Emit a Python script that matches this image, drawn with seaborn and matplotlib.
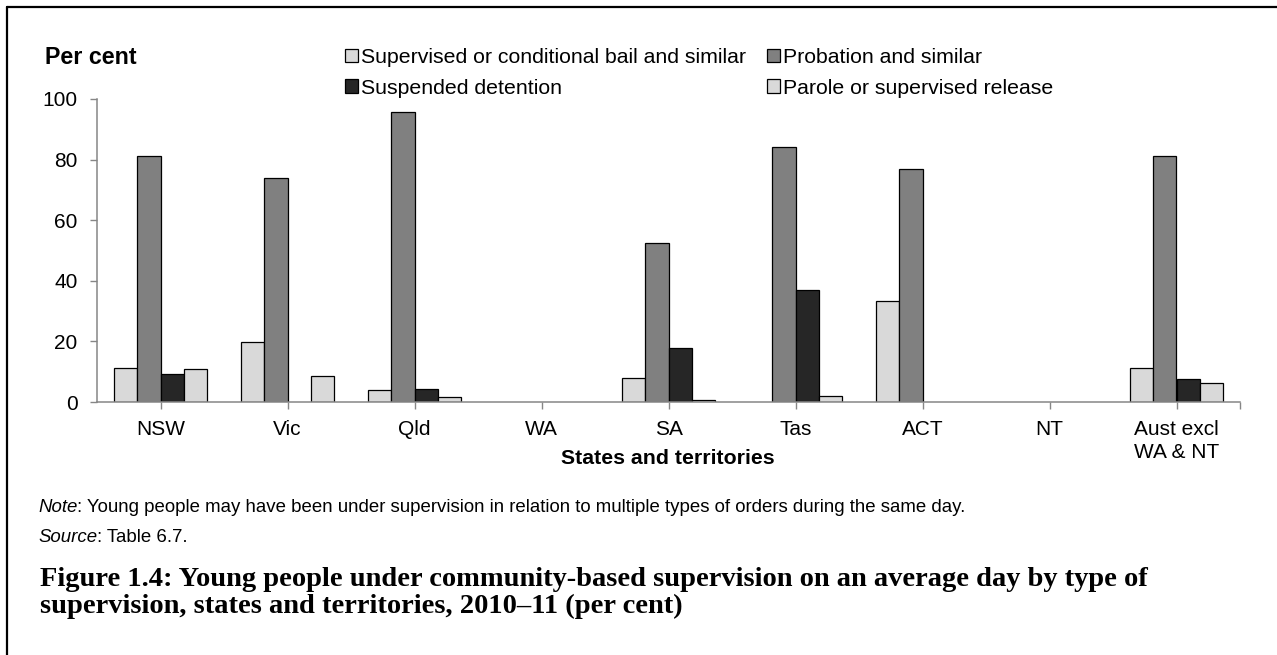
import numpy as np
import pandas as pd
import matplotlib
matplotlib.use("Agg")
import matplotlib.pyplot as plt
import seaborn as sns
from matplotlib.patches import Patch
from matplotlib.lines import Line2D

# ---------------- data ----------------
categories = ["NSW", "Vic", "Qld", "WA", "SA", "Tas", "ACT", "NT", "Aust excl\nWA & NT"]
series_names = ["Supervised or conditional bail and similar", "Probation and similar",
                "Suspended detention", "Parole or supervised release"]
bail = [11.3, 19.7, 4.1, np.nan, 8.0, np.nan, 33.2, np.nan, 11.1]
probation = [81.2, 73.8, 95.8, np.nan, 52.6, 84.0, 77.0, np.nan, 81.3]
suspended = [9.1, np.nan, 4.4, np.nan, 17.9, 37.0, np.nan, np.nan, 7.6]
parole = [10.9, 8.6, 1.5, np.nan, 0.7, 1.9, np.nan, np.nan, 6.4]
yticks = [0, 20, 40, 60, 80, 100]

colors = {series_names[0]: "#D9D9D9", series_names[1]: "#808080",
          series_names[2]: "#262626", series_names[3]: "#D9D9D9"}

df = pd.DataFrame({
    "State": categories * 4,
    "Type": [s for s in series_names for _ in categories],
    "Value": bail + probation + suspended + parole,
})

# ---------------- figure ----------------
sns.set_theme(style="white")
plt.rcParams['font.family'] = ['Liberation Sans', 'DejaVu Sans']
plt.rcParams['text.color'] = 'black'

W, H = 1277, 655
fig = plt.figure(figsize=(W / 100, H / 100), dpi=100)
fig.patch.set_facecolor("white")


def fx(px):
    return px / W


def fy(py):
    return 1 - py / H


ax = fig.add_axes([fx(97), fy(402), fx(1240) - fx(97), fy(99) - fy(402)])
sns.barplot(data=df, x="State", y="Value", hue="Type", order=categories,
            hue_order=series_names, palette=colors, width=0.725,
            edgecolor="black", linewidth=0.9, errorbar=None, legend=False, ax=ax)

ax.set_xlim(-0.5, 8.5)
ax.set_ylim(0, 100)
ax.set_yticks(yticks)
ax.set_xticks(range(len(categories)))
ax.set_xticklabels(categories)
ax.set_xticks([8.5], minor=True)
ax.set_xlabel("")
ax.set_ylabel("")
ax.set_facecolor("white")
for s in ["top", "right"]:
    ax.spines[s].set_visible(False)
for s in ["left", "bottom"]:
    ax.spines[s].set_color("#868686")
    ax.spines[s].set_linewidth(1.1)

tick_fs = 15
ax.tick_params(axis="y", left=True, length=5, width=1, color="#868686",
               pad=9, labelsize=tick_fs, labelcolor="black", direction="out")
ax.tick_params(axis="x", bottom=True, length=5, width=1, color="#868686",
               pad=8, labelsize=tick_fs, labelcolor="black", direction="out")
ax.tick_params(axis="x", which="minor", bottom=True, length=5, width=1, color="#868686")
for lbl in ax.get_xticklabels():
    lbl.set_linespacing(1.25)

renderer = fig.canvas.get_renderer()


def fit(t, target):
    w = t.get_window_extent(renderer).width
    t.set_fontsize(t.get_fontsize() * target / w)


# "Per cent"
t_pc = fig.text(fx(45), fy(57), "Per cent", fontsize=14, fontweight="bold",
                ha="left", va="center")
fit(t_pc, 92)

# legend font size from target text width
tmp = fig.text(0, 0, series_names[0], fontsize=10)
leg_fs = 10 * 387 / tmp.get_window_extent(renderer).width
tmp.remove()

handles = [Patch(facecolor=colors[n], edgecolor="black", linewidth=0.9, label=n)
           for n in [series_names[0], series_names[2], series_names[1], series_names[3]]]
leg = fig.legend(handles=handles, ncol=2, loc="upper left",
                 bbox_to_anchor=(fx(345), fy(48)), frameon=False,
                 fontsize=leg_fs, handlelength=0.6, handleheight=0.6,
                 handletextpad=0.15, columnspacing=1.0, labelspacing=0.55,
                 borderpad=0, borderaxespad=0)
for t in leg.get_texts():
    t.set_color("black")

# x-axis title
t_x = fig.text(fx(668), fy(459), "States and territories", fontsize=14,
               fontweight="bold", ha="center", va="center")
fit(t_x, 213)

# Note / Source
note_fs = 12


def italic_lead(x, y, lead, rest, fs):
    a = fig.text(fx(x), fy(y), lead, fontsize=fs, style="italic", ha="left", va="center")
    bb = a.get_window_extent(renderer)
    b = fig.text(bb.x1 / W, fy(y), rest, fontsize=fs, ha="left", va="center")
    return a, b


a, b = italic_lead(38, 508, "Note", ": Young people may have been under supervision in relation to multiple types of orders during the same day.", note_fs)
total = b.get_window_extent(renderer).x1 - a.get_window_extent(renderer).x0
note_fs = note_fs * (972 - 38) / total
a.remove(); b.remove()
italic_lead(38, 508, "Note", ": Young people may have been under supervision in relation to multiple types of orders during the same day.", note_fs)
italic_lead(38, 538, "Source", ": Table 6.7.", note_fs)

# Caption
cap1 = "Figure 1.4: Young people under community-based supervision on an average day by type of"
cap2 = "supervision, states and territories, 2010\u201311 (per cent)"
c1 = fig.text(fx(40), fy(580), cap1, fontsize=16, fontweight="bold",
              family=["Liberation Serif", "DejaVu Serif"], ha="left", va="center")
fit(c1, 1110)
fig.text(fx(40), fy(606), cap2, fontsize=c1.get_fontsize(), fontweight="bold",
         family=["Liberation Serif", "DejaVu Serif"], ha="left", va="center")

# frame lines (top and left)
fig.add_artist(Line2D([fx(7), 1], [fy(7), fy(7)], color="black", linewidth=1.6))
fig.add_artist(Line2D([fx(7), fx(7)], [0, fy(7)], color="black", linewidth=1.6))

fig.savefig("out.png", dpi=100, facecolor="white")
